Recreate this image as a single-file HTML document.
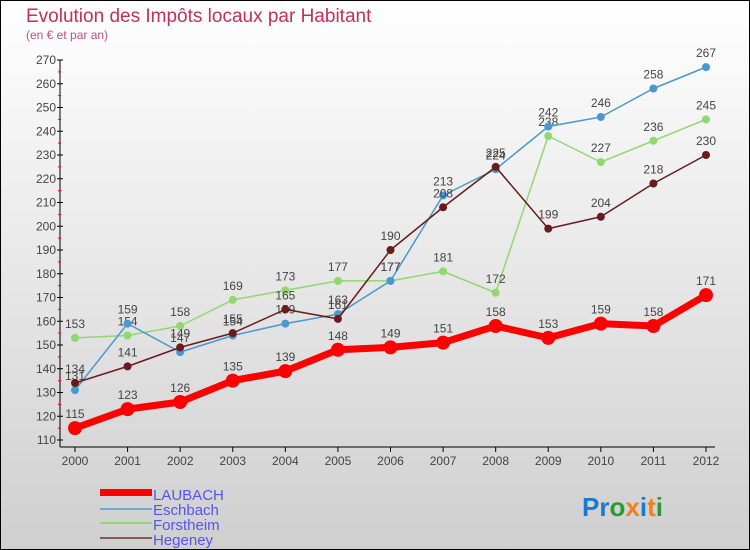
<!DOCTYPE html>
<html><head><meta charset="utf-8"><style>
body{margin:0}
#c{width:750px;height:550px;position:relative;box-sizing:border-box;border:1px solid #000;background:linear-gradient(#fff,#cfcfcf);font-family:"Liberation Sans",sans-serif;overflow:hidden}
</style></head><body>
<div id="c">
<svg id="s" width="750" height="550" style="position:absolute;left:-1px;top:-1px" font-family="Liberation Sans, sans-serif">
<text x="26" y="22" font-size="19" fill="#c0305a">Evolution des Impôts locaux par Habitant</text>
<text x="26" y="39" font-size="12" fill="#c0507a">(en € et par an)</text>
<g id="axes"></g><g id="series"></g>
<g>
<rect x="100" y="489" width="52" height="7" fill="#f00"/>
<text x="153" y="500" font-size="15" fill="#5555ee">LAUBACH</text>
<rect x="100" y="508" width="52" height="2" fill="#6fa8d0"/>
<text x="153" y="515" font-size="15" fill="#5555ee">Eschbach</text>
<rect x="100" y="522" width="52" height="2" fill="#90d870"/>
<text x="153" y="530" font-size="15" fill="#5555ee">Forstheim</text>
<rect x="100" y="537" width="52" height="2" fill="#8a5a5a"/>
<text x="153" y="545" font-size="15" fill="#5555ee">Hegeney</text>
</g>
<text x="582" y="516" font-size="26" font-weight="bold"><tspan fill="#1a7ad0">Pr</tspan><tspan fill="#2a9a30">o</tspan><tspan fill="#f08020">x</tspan><tspan fill="#1a7ad0">i</tspan><tspan fill="#f08020">t</tspan><tspan fill="#2a9a30">i</tspan></text>
</svg>
</div>
<script>
const years=[2000,2001,2002,2003,2004,2005,2006,2007,2008,2009,2010,2011,2012];
const yTicks=[110,120,130,140,150,160,170,180,190,200,210,220,230,240,250,260,270];
const laubach=[115,123,126,135,139,148,149,151,158,153,159,158,171];
const eschbach=[131,159,147,154,159,163,177,213,224,242,246,258,267];
const forstheim=[153,154,158,169,173,177,177,181,172,238,227,236,245];
const hegeney=[134,141,149,155,165,161,190,208,225,199,204,218,230];
const NS="http://www.w3.org/2000/svg";
function X(i){return 75+i*(706-75)/(years.length-1);}
function Y(v){return 440-(v-110)*380/160;}
function mk(t,a,p){const e=document.createElementNS(NS,t);for(const k in a)e.setAttribute(k,a[k]);p.appendChild(e);return e;}
const ax=document.getElementById('axes');
const yl=mk('line',{x1:60,y1:Y(270),x2:60,y2:447,stroke:'#000','stroke-width':1},ax);


const xl=mk('line',{x1:60,y1:447,x2:715,y2:447,stroke:'#000','stroke-width':1},ax);


yTicks.forEach((v,i)=>{
 mk('line',{x1:57,x2:63,y1:Y(v),y2:Y(v),stroke:'#000'},ax);
 if(i<yTicks.length-1)mk('line',{x1:58,x2:61,y1:Y(v+5),y2:Y(v+5),stroke:'#f00'},ax);
 const t=mk('text',{x:56,y:Y(v)+4,'font-size':12,fill:'#444','text-anchor':'end'},ax);t.textContent=v;
 
 
});
years.forEach((y,i)=>{
 mk('line',{x1:X(i),x2:X(i),y1:447,y2:452,stroke:'#000'},ax);
 const t=mk('text',{x:X(i),y:465,'font-size':12,fill:'#444','text-anchor':'middle'},ax);t.textContent=y;
 
 
});
const sg=document.getElementById('series');
function draw(data,color,w,r,name){
 const g=mk('g',{},sg);
 
 
 const p=mk('polyline',{points:data.map((v,i)=>X(i)+','+Y(v)).join(' '),fill:'none',stroke:color,'stroke-width':w,'stroke-linejoin':'round'},g);
 
 
 data.forEach((v,i)=>{
  const c=mk('circle',{cx:X(i),cy:Y(v),r:r,fill:color},g);
  
  
  const t=mk('text',{x:X(i),y:Y(v)-10,'font-size':12,fill:'#444','text-anchor':'middle'},g);t.textContent=v;
  
  
 });
}
draw(forstheim,'#90d870',1.5,4,'forstheim');
draw(eschbach,'#4a98d0',1.5,4,'eschbach');
draw(hegeney,'#6a1a1a',1.5,4,'hegeney');
draw(laubach,'#f00',7,7,'laubach');
</script>
</body></html>
